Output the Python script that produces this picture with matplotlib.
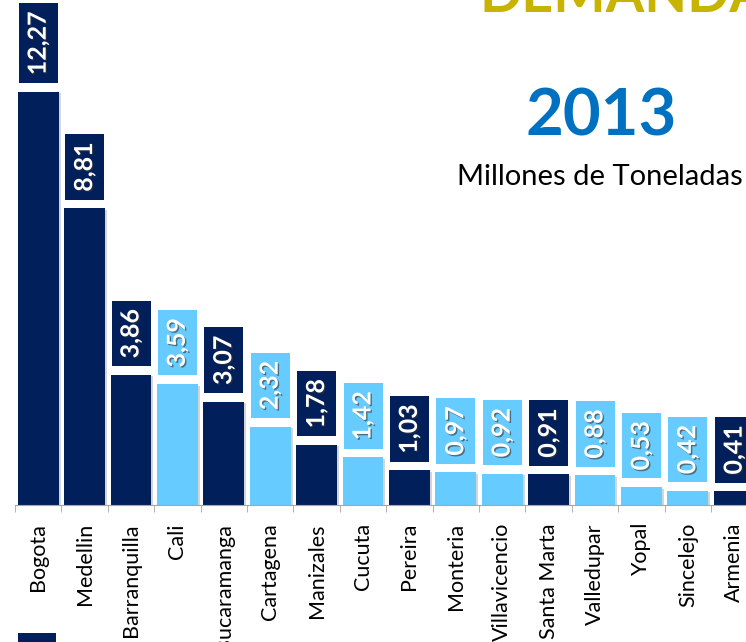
import matplotlib
matplotlib.use("Agg")
import matplotlib.pyplot as plt
import matplotlib.patheffects as pe
from matplotlib.patches import Rectangle
import numpy as np

ciudades = ['Bogota', 'Medellin', 'Barranquilla', 'Cali', 'Bucaramanga', 'Cartagena',
            'Manizales', 'Cucuta', 'Pereira', 'Monteria', 'Villavicencio', 'Santa Marta',
            'Valledupar', 'Yopal', 'Sincelejo', 'Armenia']
demanda = [12.27, 8.81, 3.86, 3.59, 3.07, 2.32, 1.78, 1.42, 1.03, 0.97, 0.92, 0.91,
           0.88, 0.53, 0.42, 0.41]
grupo = ['a', 'a', 'a', 'b', 'a', 'b', 'a', 'b', 'a', 'b', 'b', 'a', 'b', 'b', 'b', 'a']

oscuro = '#001F5B'
claro = '#66CCFF'
colores = [oscuro if g == 'a' else claro for g in grupo]

plt.rcParams['font.family'] = ['Lato', 'DejaVu Sans']

W, H = 746, 642
fig = plt.figure(figsize=(W / 100, H / 100), dpi=100)

# eje: linea base en y=505 px, primer tick en x=15 px, 46.4 px por categoria
ax = fig.add_axes([15 / W, (H - 505) / H, 16 * 46.4 / W, 505 / H])
x = np.arange(len(ciudades))
barras = ax.bar(x, demanda, width=0.88, color=colores, zorder=2)
for b in barras:
    b.set_path_effects([pe.SimplePatchShadow(offset=(1.5, -1), shadow_rgbFace='#888888', alpha=0.35),
                        pe.Normal()])

for xi, v, c in zip(x, demanda, colores):
    ax.annotate(f'{v:.2f}'.replace('.', ','), (xi, v), xytext=(0, 12), textcoords='offset points',
                rotation=90, ha='center', va='bottom', color='white', fontsize=18,
                fontweight='bold', zorder=3, annotation_clip=False,
                bbox=dict(boxstyle='square,pad=0.32', fc=c, ec='none'),
                path_effects=[pe.withSimplePatchShadow(offset=(1, -1), shadow_rgbFace='#333333', alpha=0.6)])

ax.set_xlim(-0.5, 15.5)
ax.set_ylim(0, 15)
ax.set_xticks(x)
ax.set_xticklabels(ciudades, rotation=90, fontsize=15.5, va='top')
ax.set_xticks(np.arange(-0.5, 16, 1), minor=True)
ax.tick_params(axis='x', which='major', length=0, pad=13)
ax.tick_params(axis='x', which='minor', length=5, color='#A6A6A6', direction='out')
ax.set_yticks([])
for s in ['top', 'right', 'left']:
    ax.spines[s].set_visible(False)
ax.spines['bottom'].set_color('#A6A6A6')
ax.patch.set_alpha(0)

fig.text(480 / W, 1 - 12 / H, 'DEMANDA', color='#C8B400', fontsize=40, fontweight='bold',
         ha='left', va='baseline')
fig.text(601 / W, 1 - 136 / H, '2013', color='#0070C0', fontsize=47, fontweight='bold',
         ha='center', va='baseline')
fig.text(600 / W, 1 - 185 / H, 'Millones de Toneladas', color='black', fontsize=21,
         ha='center', va='baseline')

fig.patches.append(Rectangle((18 / W, 0), 38 / W, 9 / H, transform=fig.transFigure,
                             facecolor=oscuro, edgecolor='none'))

fig.savefig('out.png', dpi=100)
